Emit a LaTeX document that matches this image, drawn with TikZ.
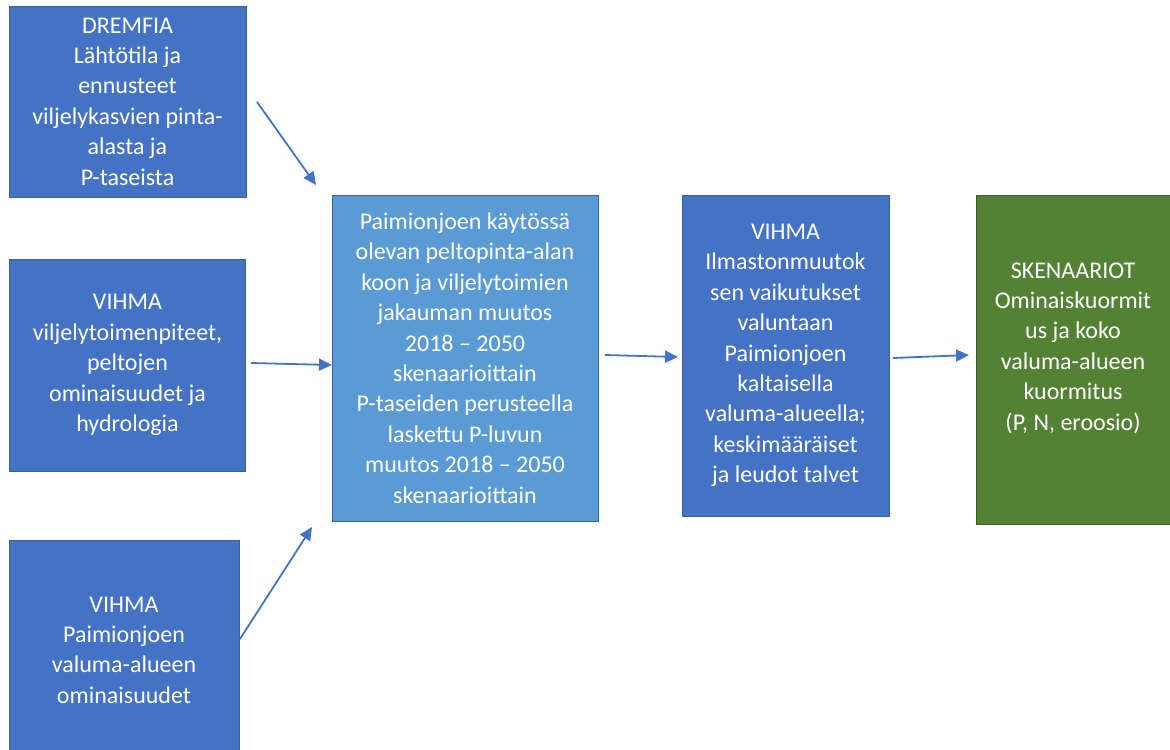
\documentclass[tikz,border=0pt]{standalone}
\usepackage{fontspec}
\setmainfont{Carlito}
\usepackage{tikz}
\usetikzlibrary{arrows.meta,positioning}
\definecolor{boxblue}{HTML}{4472C4}
\definecolor{boxlight}{HTML}{5B9BD5}
\definecolor{boxgreen}{HTML}{548235}
\definecolor{edgeblue}{HTML}{3A5F9F}

\begin{document}
\begin{tikzpicture}[
    x=0.5pt, y=-0.5pt,
    srcbox/.style={rectangle, fill=boxblue, draw=edgeblue, line width=0.4pt, text=white,
        align=center, inner sep=0pt, font=\fontsize{12}{15.2}\selectfont},
    midbox/.style={srcbox, fill=boxlight},
    resbox/.style={srcbox, fill=boxgreen, draw=boxgreen!70!black},
    flow/.style={-{Triangle[length=6.5pt, width=6pt]}, boxblue, line width=0.9pt}
]
\useasboundingbox (0,0) rectangle (1170,749);

% Input boxes
\node[srcbox, minimum width=118.5pt, minimum height=95.5pt] (dremfia) at (127.5,101.5)
    {DREMFIA\\Lähtötila ja\\ennusteet\\viljelykasvien pinta-\\alasta ja\\P-taseista};
\node[srcbox, minimum width=118pt, minimum height=106pt] (viljely) at (127.5,365)
    {VIHMA\\viljelytoimenpiteet,\\peltojen\\ominaisuudet ja\\hydrologia};
\node[srcbox, minimum width=115pt, minimum height=110pt] (valuma) at (124,650)
    {VIHMA\\Paimionjoen\\valuma-alueen\\ominaisuudet};

% Processing chain
\node[midbox, minimum width=133pt, minimum height=163pt] (pelto) at (465,358)
    {Paimionjoen käytössä\\olevan peltopinta-alan\\koon ja viljelytoimien\\jakauman muutos\\2018 -- 2050\\skenaarioittain\\P-taseiden perusteella\\laskettu P-luvun\\muutos 2018 -- 2050\\skenaarioittain};
\node[srcbox, minimum width=103.5pt, minimum height=160.5pt] (ilmasto) at (785.5,355.5)
    {VIHMA\\Ilmastonmuutok\\sen vaikutukset\\valuntaan\\Paimionjoen\\kaltaisella\\valuma-alueella;\\keskimääräiset\\ja leudot talvet};
\node[resbox, minimum width=97pt, minimum height=164.5pt] (skenaario) at (1073,359.5)
    {SKENAARIOT\\Ominaiskuormit\\us ja koko\\valuma-alueen\\kuormitus\\(P, N, eroosio)\\[-2pt]};

% Arrow ends
\coordinate (dremfia-out) at (257,102);
\coordinate (viljely-out) at (251,363);
\coordinate (valuma-out)  at (240,639);
\coordinate (pelto-in1)   at (316,185);
\coordinate (pelto-in2)   at (332,365);
\coordinate (pelto-in3)   at (312,527);
\coordinate (pelto-out)   at (605,355);
\coordinate (ilmasto-in)  at (678,357);
\coordinate (ilmasto-out) at (893,358);
\coordinate (skenaario-in) at (969,355);

% Arrows
\draw[flow] (dremfia-out) -- (pelto-in1);
\draw[flow] (viljely-out) -- (pelto-in2);
\draw[flow] (valuma-out) -- (pelto-in3);
\draw[flow] (pelto-out) -- (ilmasto-in);
\draw[flow] (ilmasto-out) -- (skenaario-in);
\end{tikzpicture}
\end{document}
